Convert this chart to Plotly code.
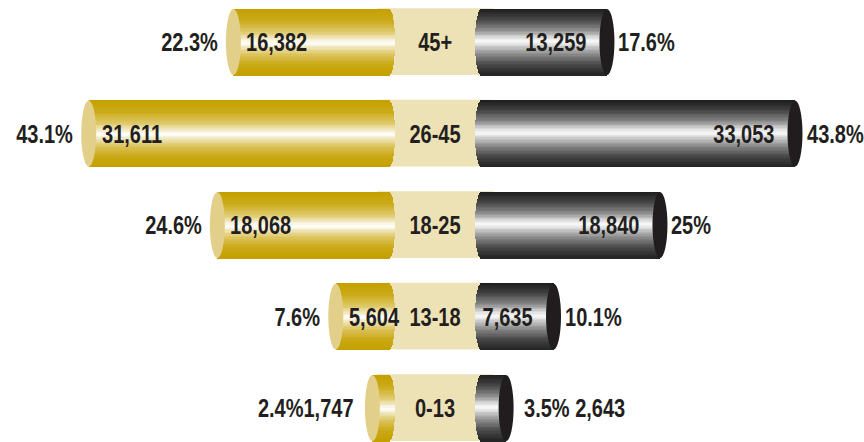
import math
import plotly.graph_objects as go

# ---------------- data ----------------
categories = ["0-13", "13-18", "18-25", "26-45", "45+"]
gold_values = [1747, 5604, 18068, 31611, 16382]
gold_pct = [2.4, 7.6, 24.6, 43.1, 22.3]
black_values = [2643, 7635, 18840, 33053, 13259]
black_pct = [3.5, 10.1, 25, 43.8, 17.6]

# ---------------- style ----------------
W, H = 864, 442
SCALE = 0.0095          # px per unit
GOLD_BASE_PX = 389
BLACK_BASE_PX = 481
BAR_H = 0.72            # in row units
N = 48                  # gradient strips
CAP_IN_PX = 6
CAP_OUT_PX = 7.5
FONT = "Liberation Sans, Arial, sans-serif"
FONT_SIZE = 25
CONDENSE = 0.8
TXT = "#231F20"
CREAM = "#ECE2B6"
GOLD_FACE = "#E2D08A"
BLACK_FACE = "#211D1E"

gold_stops = [(0.0, "#C4A000"), (0.18, "#CCAB1A"), (0.35, "#DFC96A"), (0.46, "#F6EED0"),
              (0.52, "#FFFFFF"), (0.58, "#F1E7BE"), (0.70, "#DBC258"), (0.85, "#CBA916"),
              (1.0, "#C4A000")]
black_stops = [(0.0, "#1E1E1E"), (0.15, "#424242"), (0.32, "#8A8A8A"), (0.44, "#E2E2E2"),
               (0.50, "#FBFBFB"), (0.56, "#D2D2D2"), (0.70, "#858585"), (0.85, "#474747"),
               (1.0, "#242424")]


def interp(stops, f):
    for (f0, c0), (f1, c1) in zip(stops[:-1], stops[1:]):
        if f0 <= f <= f1:
            a = (f - f0) / (f1 - f0) if f1 > f0 else 0
            r0, g0, b0 = int(c0[1:3], 16), int(c0[3:5], 16), int(c0[5:7], 16)
            r1, g1, b1 = int(c1[1:3], 16), int(c1[3:5], 16), int(c1[5:7], 16)
            return "rgb(%d,%d,%d)" % (r0 + (r1 - r0) * a, g0 + (g1 - g0) * a, b0 + (b1 - b0) * a)
    return stops[-1][1]


cap_in = CAP_IN_PX / SCALE
cap_out = CAP_OUT_PX / SCALE
strip_h = BAR_H / N


def strips(values, stops):
    xs, ys, bases, cols = [], [], [], []
    for k in range(N):
        t = 1 - (2 * k + 1) / N
        f = (k + 0.5) / N
        ext = cap_in * math.sqrt(max(0.0, 1 - t * t))
        col = interp(stops, f)
        for i, v in enumerate(values):
            xs.append(v + ext)
            bases.append(-ext)
            ys.append(i + t * BAR_H / 2)
            cols.append(col)
    return xs, ys, bases, cols


fig = go.Figure()

gx, gy, gb, gc = strips(gold_values, gold_stops)
fig.add_trace(go.Bar(x=gx, y=gy, base=gb, orientation="h", width=strip_h * 1.25,
                     marker=dict(color=gc, line=dict(width=0)), xaxis="x", yaxis="y",
                     hoverinfo="skip"))
bx, by, bb, bc = strips(black_values, black_stops)
fig.add_trace(go.Bar(x=bx, y=by, base=bb, orientation="h", width=strip_h * 1.25,
                     marker=dict(color=bc, line=dict(width=0)), xaxis="x2", yaxis="y",
                     hoverinfo="skip"))

shapes = []
annotations = []
center_x = ((GOLD_BASE_PX + CAP_IN_PX) + (BLACK_BASE_PX - CAP_IN_PX)) / 2 / W
font = dict(family=FONT, size=FONT_SIZE, color=TXT, weight="bold")
for i, cat in enumerate(categories):
    # cream band behind
    shapes.append(dict(type="rect", xref="paper", yref="y", layer="below",
                       x0=(GOLD_BASE_PX - 12) / W, x1=(BLACK_BASE_PX + 12) / W,
                       y0=i - BAR_H / 2, y1=i + BAR_H / 2 + 0.01,
                       fillcolor=CREAM, line=dict(width=0)))
    # outer end faces
    gv, bv = gold_values[i], black_values[i]
    shapes.append(dict(type="circle", xref="x", yref="y", layer="above",
                       x0=gv - cap_out, x1=gv + cap_out,
                       y0=i - BAR_H / 2, y1=i + BAR_H / 2,
                       fillcolor=GOLD_FACE, line=dict(width=0)))
    shapes.append(dict(type="circle", xref="x2", yref="y", layer="above",
                       x0=bv - cap_out, x1=bv + cap_out,
                       y0=i - BAR_H / 2, y1=i + BAR_H / 2,
                       fillcolor=BLACK_FACE, line=dict(width=0)))

    # center label
    annotations.append(dict(x=center_x, xref="paper", y=i, yref="y", text=cat,
                            showarrow=False, font=font, xanchor="center", yanchor="middle"))

    g_val_txt = f"{gv:,}"
    g_pct_txt = f"{gold_pct[i]:g}%"
    b_val_txt = f"{bv:,}"
    b_pct_txt = f"{black_pct[i]:g}%"
    small_g = gv * SCALE < 40
    small_b = bv * SCALE < 40

    if small_g:
        annotations.append(dict(x=gv, xref="x", y=i, yref="y", text=g_pct_txt + g_val_txt,
                                showarrow=False, font=font, xanchor="right", yanchor="middle",
                                xshift=-(CAP_OUT_PX + 9)))
    else:
        annotations.append(dict(x=gv, xref="x", y=i, yref="y", text=g_val_txt,
                                showarrow=False, font=font, xanchor="left", yanchor="middle",
                                xshift=11))
        annotations.append(dict(x=gv, xref="x", y=i, yref="y", text=g_pct_txt,
                                showarrow=False, font=font, xanchor="right", yanchor="middle",
                                xshift=-(CAP_OUT_PX + 6)))
    if small_b:
        annotations.append(dict(x=bv, xref="x2", y=i, yref="y", text=b_pct_txt + " " + b_val_txt,
                                showarrow=False, font=font, xanchor="left", yanchor="middle",
                                xshift=CAP_OUT_PX + 8))
    else:
        annotations.append(dict(x=bv, xref="x2", y=i, yref="y", text=b_val_txt,
                                showarrow=False, font=font, xanchor="right", yanchor="middle",
                                xshift=-19))
        annotations.append(dict(x=bv, xref="x2", y=i, yref="y", text=b_pct_txt,
                                showarrow=False, font=font, xanchor="left", yanchor="middle",
                                xshift=CAP_OUT_PX + 2))

gold_dom_px = 400
black_dom_px = 470
fig.update_layout(
    width=W, height=H,
    margin=dict(l=0, r=0, t=0, b=0),
    paper_bgcolor="white", plot_bgcolor="white",
    barmode="overlay", bargap=0, showlegend=False,
    xaxis=dict(domain=[0, gold_dom_px / W],
               range=[GOLD_BASE_PX / SCALE, -(gold_dom_px - GOLD_BASE_PX) / SCALE],
               visible=False, fixedrange=True),
    xaxis2=dict(domain=[black_dom_px / W, 1],
                range=[-(BLACK_BASE_PX - black_dom_px) / SCALE, (W - BLACK_BASE_PX) / SCALE],
                visible=False, fixedrange=True),
    yaxis=dict(range=[-0.3716, 4.459], visible=False, fixedrange=True),
    shapes=shapes,
    annotations=annotations,
)

# condense the bold text horizontally around each annotation's anchor side
post = (
    "document.body.style.margin='0';"
    "document.body.style.overflow='hidden';"
    "var gd=document.getElementById('{plot_id}');"
    "var anns=gd.layout.annotations;"
    "gd.querySelectorAll('g.annotation').forEach(function(g){"
    " var a=anns[+g.getAttribute('data-index')];"
    " var t=g.querySelector('text.annotation-text'); if(!t||!a) return;"
    " var bb=t.getBBox();"
    " var ax=a.xanchor==='left'?bb.x:(a.xanchor==='right'?bb.x+bb.width:bb.x+bb.width/2);"
    " t.setAttribute('transform','translate('+ax+',0) scale(" + str(CONDENSE) + ",1) translate('+(-ax)+',0)');"
    "});"
)
fig.write_html("out.html", config={"displayModeBar": False}, post_script=post)
